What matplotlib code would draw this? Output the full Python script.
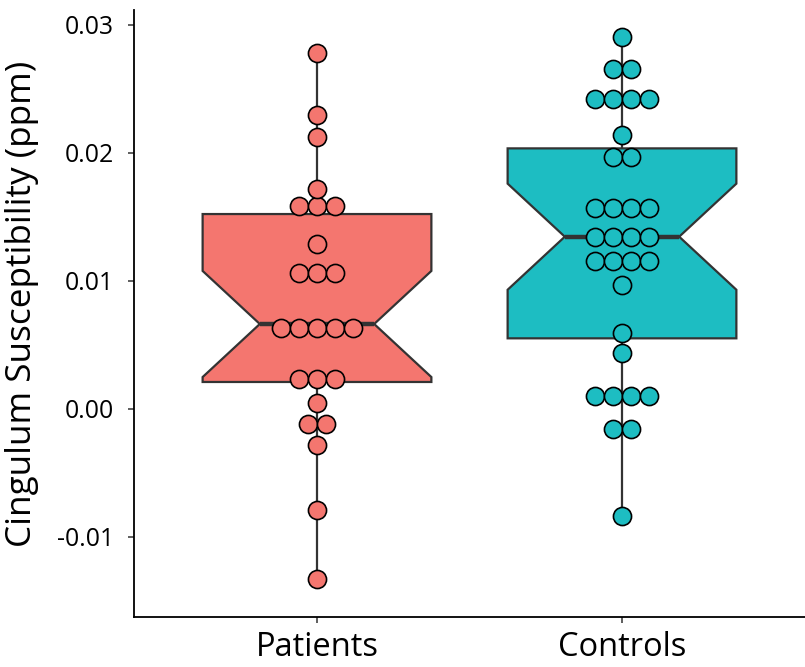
import numpy as np
import matplotlib
matplotlib.use("Agg")
import matplotlib.pyplot as plt

groups = ["Patients", "Controls"]
colors = ["#F4766F", "#1DBDC2"]

patients = [0.02781, 0.02297, 0.02125, 0.01719,
            0.01586, 0.01586, 0.01586, 0.01289,
            0.01063, 0.01063, 0.01063,
            0.00633, 0.00633, 0.00633, 0.00633, 0.00633,
            0.00234, 0.00234, 0.00234, 0.00047,
            -0.00117, -0.00117, -0.00281, -0.00789, -0.01328]
controls = [0.02904, 0.02654, 0.02654,
            0.02422, 0.02422, 0.02422, 0.02422, 0.02138,
            0.01971, 0.01971,
            0.01573, 0.01573, 0.01573, 0.01573,
            0.01341, 0.01341, 0.01341, 0.01341,
            0.01159, 0.01159, 0.01159, 0.01159,
            0.00969, 0.00591, 0.00440,
            0.00099, 0.00099, 0.00099, 0.00099,
            -0.00159, -0.00159, -0.00833]

# box statistics
q1 = [0.00211, 0.00552]
med = [0.00664, 0.01346]
q3 = [0.01523, 0.02036]

yticks = [-0.01, 0.00, 0.01, 0.02, 0.03]
ytick_labels = ["-0.01", "0.00", "0.01", "0.02", "0.03"]

plt.rcParams['font.family'] = ['Open Sans', 'DejaVu Sans']

fig = plt.figure(figsize=(8.05, 6.67), dpi=100)
ax = fig.add_axes([134/805, 50/667, 671/805, 607/667])

data = [patients, controls]
stats = []
for i, d in enumerate(data):
    n = len(d)
    iqr = q3[i] - q1[i]
    h = 1.58 * iqr / np.sqrt(n)
    stats.append(dict(med=med[i], q1=q1[i], q3=q3[i],
                      whislo=min(d), whishi=max(d),
                      cilo=med[i] - h, cihi=med[i] + h, fliers=[]))

bp = ax.bxp(stats, positions=[1, 2], widths=0.75, shownotches=True,
            showcaps=False, showfliers=False, patch_artist=True,
            boxprops=dict(linewidth=1.6, edgecolor="#333333"),
            whiskerprops=dict(linewidth=1.6, color="#333333"),
            medianprops=dict(linewidth=3.2, color="#333333"))
for patch, c in zip(bp['boxes'], colors):
    patch.set_facecolor(c)
for w in bp['whiskers']:
    w.set_zorder(1)

spacing = 0.0595
for i, d in enumerate(data):
    vals, counts = np.unique(d, return_counts=True)
    xs, ys = [], []
    for v, k in zip(vals, counts):
        for j in range(k):
            xs.append(i + 1 + (j - (k - 1) / 2) * spacing)
            ys.append(v)
    ax.scatter(xs, ys, s=170, facecolor=colors[i], edgecolor="black",
               linewidth=1.2, zorder=5)

ax.set_xlim(0.4, 2.6)
ax.set_ylim(-0.01625, 0.03117)
ax.set_xticks([1, 2])
ax.set_xticklabels(groups, fontsize=23.5)
ax.set_yticks(yticks)
ax.set_yticklabels(ytick_labels, fontsize=17.8)
fig.text(22/805, (667 - 303.5)/667, "Cingulum Susceptibility (ppm)",
         rotation=90, ha="center", va="center", fontsize=25.3)

for s in ["top", "right"]:
    ax.spines[s].set_visible(False)
for s in ["left", "bottom"]:
    ax.spines[s].set_linewidth(1.3)
    ax.spines[s].set_color("black")
ax.tick_params(axis="both", length=4, width=1.1, color="#333333",
               labelcolor="black")
ax.tick_params(axis="y", pad=10.5)
ax.tick_params(axis="x", pad=6)

fig.savefig("out.png", dpi=100)
